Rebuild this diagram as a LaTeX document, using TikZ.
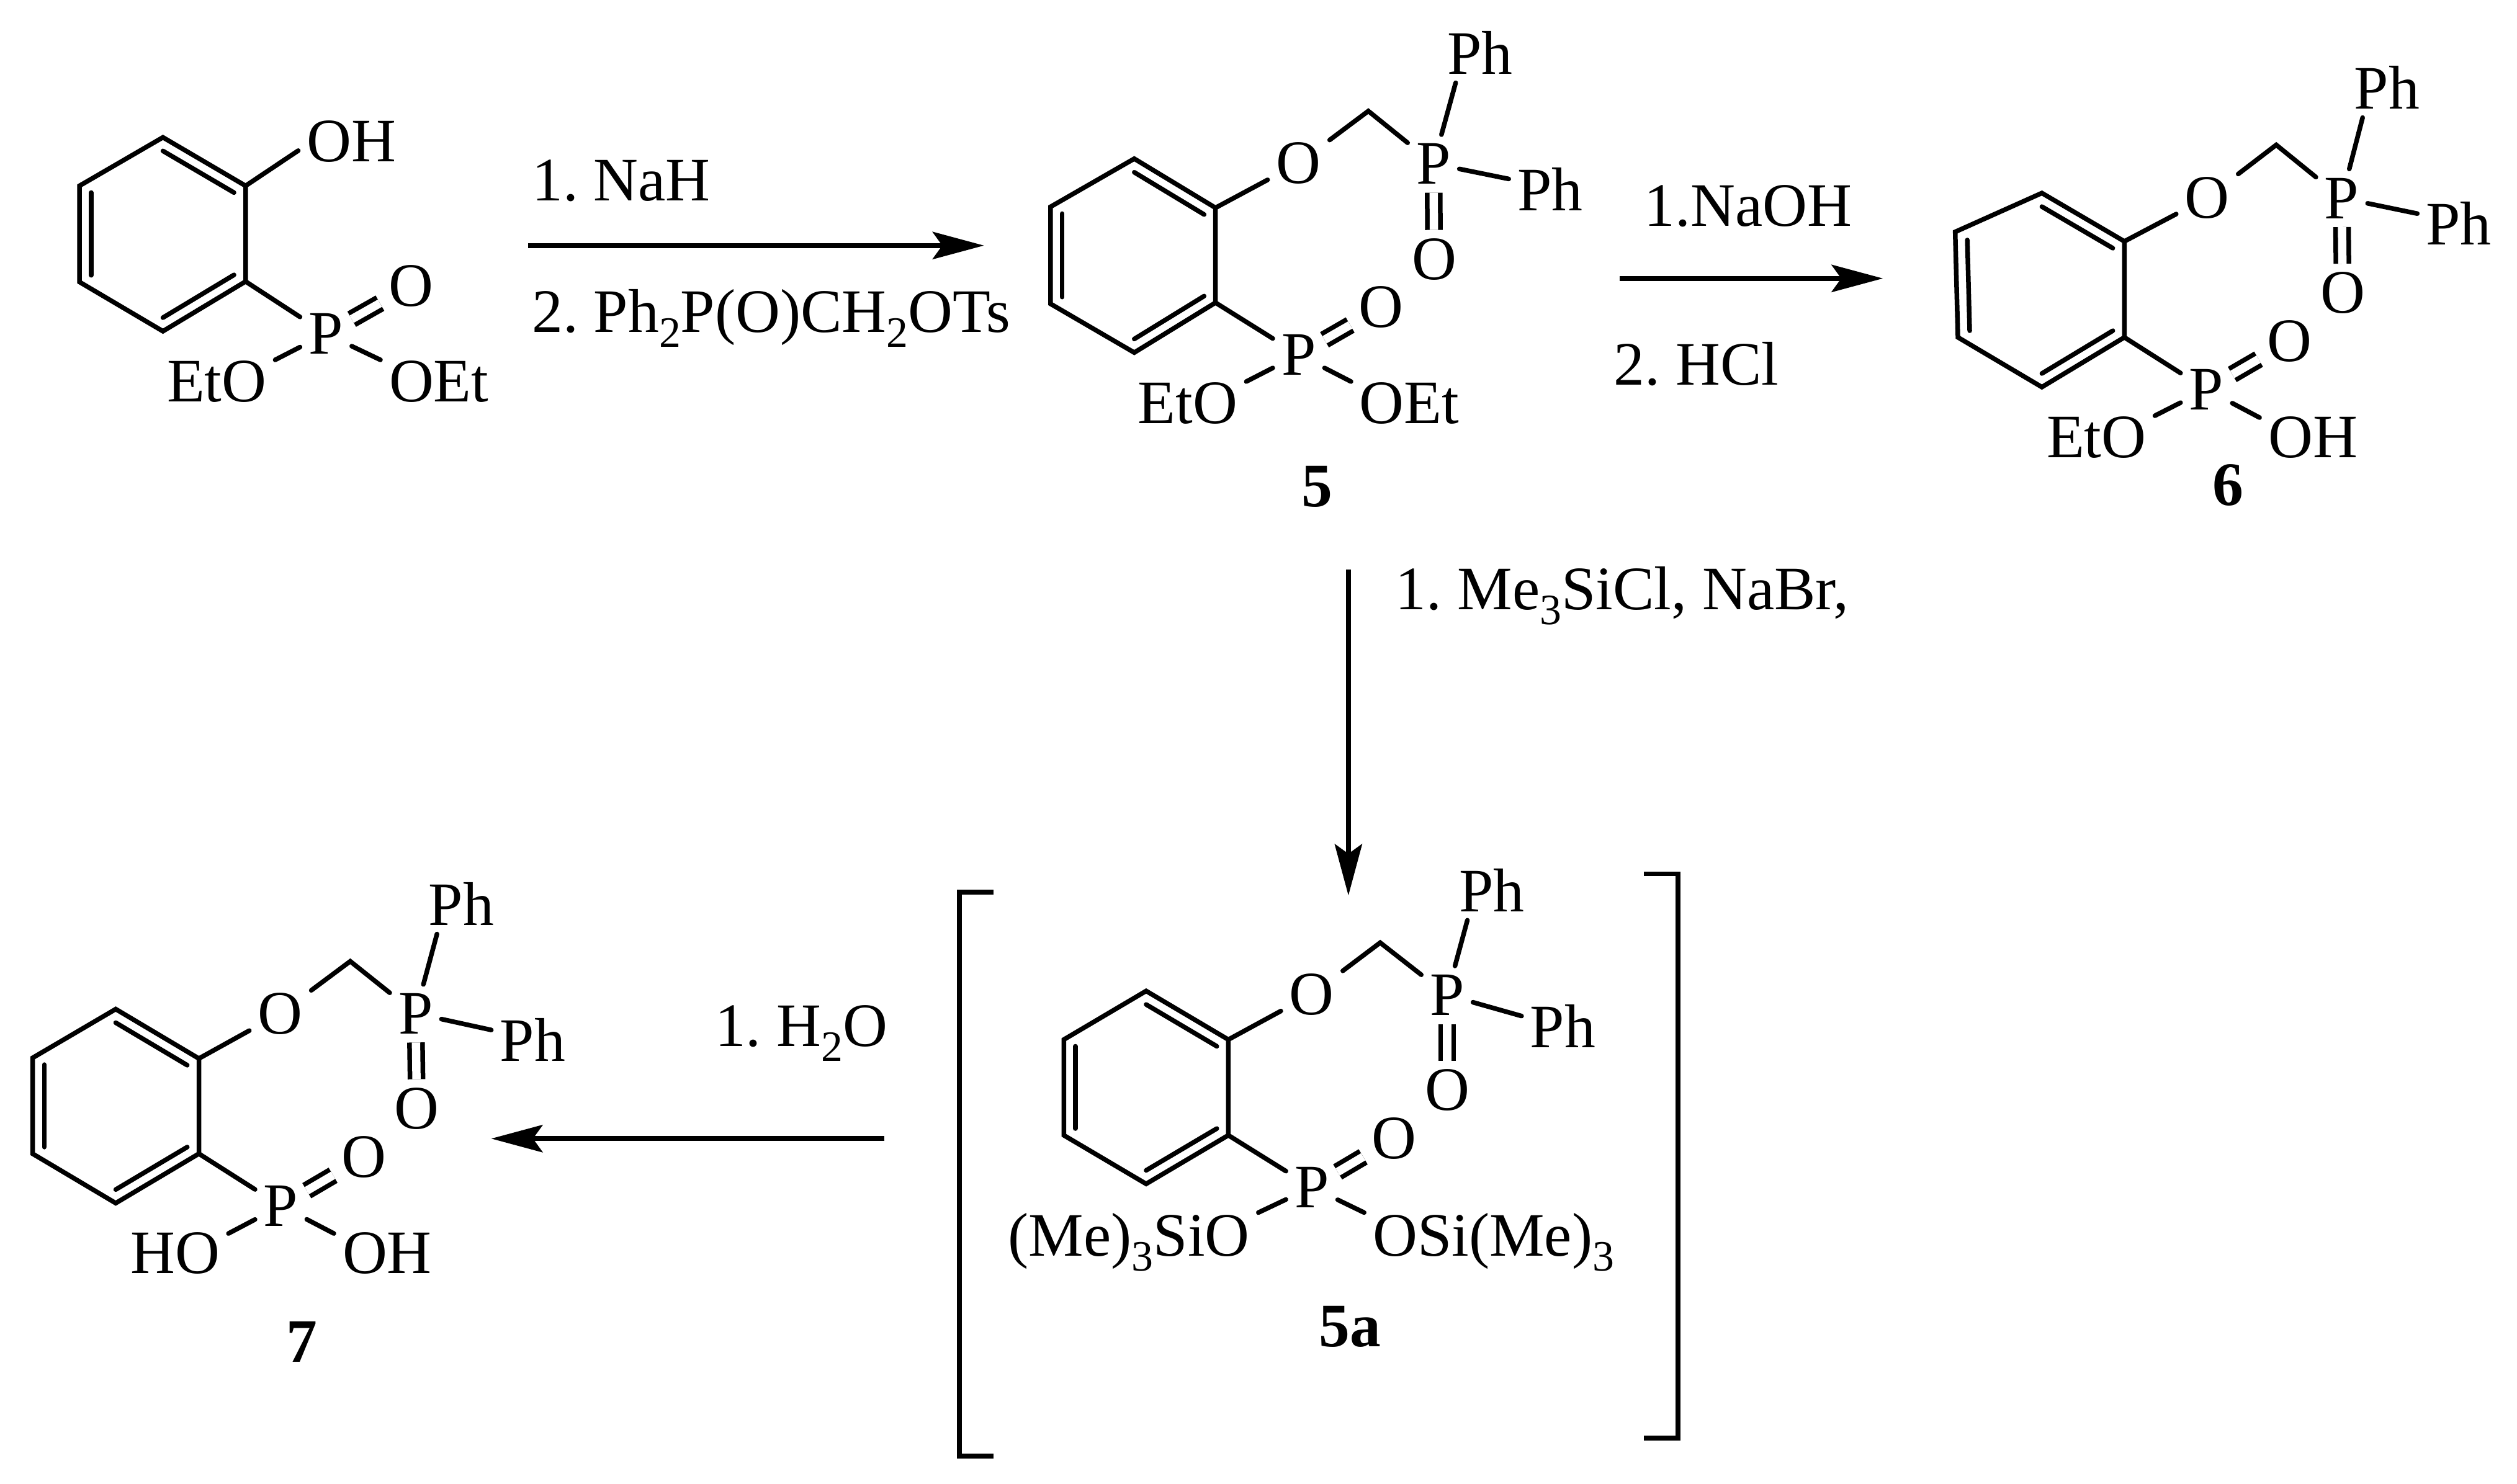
\documentclass[tikz,border=0pt]{standalone}
\usepackage{fontspec}
\setmainfont{Liberation Serif}
\usepackage{tikz}
\usetikzlibrary{calc, arrows.meta}

\newcommand{\subnum}[1]{\raisebox{-0.24em}{\fontsize{13.5}{13.5}\selectfont #1}}
\frenchspacing

\tikzset{
    bond/.style={line width=1.45pt, line cap=round},
    dbl/.style={line width=1.45pt, double, double distance=2.6pt},
    brk/.style={line width=1.5pt},
    rxn/.style={line width=1.5pt, -{Stealth[length=16pt, width=8.5pt, inset=3pt]}},
    atom/.style={inner sep=2.5pt, text height=12.7pt, text depth=0pt},
    reagent/.style={inner sep=0pt, anchor=base west},
    every node/.style={font=\fontsize{19.25}{23}\selectfont}
}

\begin{document}
\begin{tikzpicture}[x=0.5pt, y=-0.5pt]
    \useasboundingbox (0,0) rectangle (1568,924.7);

    % rings
    \coordinate (a1) at (101.5,85.6);
    \coordinate (a2) at (153,115.8);
    \coordinate (a3) at (153,175.4);
    \coordinate (a4) at (101.5,206.4);
    \coordinate (a5) at (49.5,175.7);
    \coordinate (a6) at (49.5,115.8);

    \coordinate (b1) at (706.6,98.9);
    \coordinate (b2) at (757.2,129.5);
    \coordinate (b3) at (757.2,188.6);
    \coordinate (b4) at (706.6,219.7);
    \coordinate (b5) at (654.4,189.3);
    \coordinate (b6) at (654.4,128.9);

    \coordinate (c1) at (1272,120.3);
    \coordinate (c2) at (1323.4,150.4);
    \coordinate (c3) at (1323.4,210.2);
    \coordinate (c4) at (1272,241.2);
    \coordinate (c5) at (1219.7,210.2);
    \coordinate (c6) at (1218,144.5);

    \coordinate (d1) at (714,617.5);
    \coordinate (d2) at (765.2,647.8);
    \coordinate (d3) at (765.2,707.4);
    \coordinate (d4) at (714,737.7);
    \coordinate (d5) at (662.7,707.4);
    \coordinate (d6) at (662.7,647.8);

    \coordinate (e1) at (72.1,628.8);
    \coordinate (e2) at (123.9,659.6);
    \coordinate (e3) at (123.9,718.9);
    \coordinate (e4) at (72.1,749.7);
    \coordinate (e5) at (20.3,718.9);
    \coordinate (e6) at (20.3,659.2);

    % CH2 corners
    \coordinate (bC) at (852.4,69.2);
    \coordinate (cC) at (1418,90.3);
    \coordinate (dC) at (859.8,587.4);
    \coordinate (eC) at (218.2,599);

    % phenol
    \node[atom] (aH) at (219,88) {OH};
    \node[atom] (aQ) at (203,208) {P};
    \node[atom] (aV) at (256,178) {O};
    \node[atom] (aL) at (135,237.5) {EtO};
    \node[atom] (aM) at (273.4,237.5) {OEt};

    % 5
    \node[atom] (bO) at (809,101.7) {O};
    \node[atom] (bP) at (893,102) {P};
    \node[atom] (bT) at (922,33.5) {Ph};
    \node[atom] (bR) at (965.6,118.4) {Ph};
    \node[atom] (bU) at (893.4,161.4) {O};
    \node[atom] (bQ) at (809,221) {P};
    \node[atom] (bV) at (860.4,191.4) {O};
    \node[atom] (bL) at (740,251) {EtO};
    \node[atom] (bM) at (878,251) {OEt};
    \node[atom] (bN) at (820.4,303) {\textbf{5}};

    % 6
    \node[atom] (cO) at (1375,123.2) {O};
    \node[atom] (cP) at (1458.8,123.4) {P};
    \node[atom] (cT) at (1487,55.2) {Ph};
    \node[atom] (cR) at (1531.6,140) {Ph};
    \node[atom] (cU) at (1459.4,182.4) {O};
    \node[atom] (cQ) at (1374.5,242.7) {P};
    \node[atom] (cV) at (1426.3,212.6) {O};
    \node[atom] (cL) at (1306,272.3) {EtO};
    \node[atom] (cM) at (1440.8,272.3) {OH};
    \node[atom] (cN) at (1388,302.3) {\textbf{6}};

    % 5a
    \node[atom] (dO) at (817.2,619.5) {O};
    \node[atom] (dP) at (901.5,620) {P};
    \node[atom] (dT) at (929.3,555.3) {Ph};
    \node[atom] (dR) at (973.6,640) {Ph};
    \node[atom] (dU) at (901.5,679) {O};
    \node[atom] (dQ) at (817.2,739.8) {P};
    \node[atom] (dV) at (868.5,709.4) {O};
    \node[atom] (dL) at (703.3,769.8) {(Me)\subnum{3}SiO};
    \node[atom] (dM) at (930.4,769.8) {OSi(Me)\subnum{3}};
    \node[atom] (dN) at (841,826.3) {\textbf{5a}};

    % 7
    \node[atom] (eO) at (174.6,631.5) {O};
    \node[atom] (eP) at (258.9,631.5) {P};
    \node[atom] (eT) at (287.4,563.9) {Ph};
    \node[atom] (eR) at (331.8,648.7) {Ph};
    \node[atom] (eU) at (259.7,690.6) {O};
    \node[atom] (eQ) at (175,751.4) {P};
    \node[atom] (eV) at (226.8,721) {O};
    \node[atom] (eL) at (109.1,780.7) {HO};
    \node[atom] (eM) at (241.2,780.7) {OH};
    \node[atom] (eN) at (188,836) {\textbf{7}};

    \foreach \n in {a, b, c, d, e} {
        \coordinate (\n0) at ($(\n1)!0.5!(\n4)$);
        \draw[bond] (\n1) -- (\n2) -- (\n3) -- (\n4) -- (\n5) -- (\n6) -- cycle;
        \foreach \p/\q in {1/2, 3/4, 5/6}
            \draw[bond] ($(\n\p)!0.14!(\n0)$) -- ($(\n\q)!0.14!(\n0)$);
        \draw[bond] (\n3) -- (\n Q);
        \draw[dbl] (\n Q) -- (\n V);
    }

    \draw[bond] (a2) -- (aH.190);

    \foreach \n/\l/\r in {a/20/160, b/20/160, c/20/160, d/10/170, e/20/160} {
        \draw[bond] (\n Q) -- (\n L.\l);
        \draw[bond] (\n Q) -- (\n M.\r);
    }

    \foreach \n in {b, c, d, e} {
        \draw[bond] (\n2) -- (\n O);
        \draw[bond] (\n O) -- (\n C) -- (\n P);
        \draw[bond] (\n P) -- (\n T.230);
        \draw[bond] (\n P) -- (\n R.165);
        \draw[dbl] (\n P) -- (\n U);
    }

    % brackets
    \draw[brk] (619,556) -- (597.6,556) -- (597.6,907.3) -- (619,907.3);
    \draw[brk] (1024,544.5) -- (1045.4,544.5) -- (1045.4,896.2) -- (1024,896.2);

    % arrows
    \coordinate (s1) at (329,153);
    \coordinate (t1) at (613,153);
    \coordinate (s2) at (1009,173.5);
    \coordinate (t2) at (1173,173.5);
    \coordinate (s3) at (840,355);
    \coordinate (t3) at (840,558);
    \coordinate (s4) at (551,709.5);
    \coordinate (t4) at (306,709.5);

    \foreach \n in {1, 2, 3, 4}
    \draw[rxn] (s\n) -- (t\n);

    \node[reagent] (r1) at (331,125) {1. NaH};
    \node[reagent] (r2) at (331,207) {2. Ph\subnum{2}P(O)CH\subnum{2}OTs};
    \node[reagent] (r3) at (1024,141) {1.NaOH};
    \node[reagent] (r4) at (1005,240) {2. HCl};
    \node[reagent] (r5) at (869,380) {1. Me\subnum{3}SiCl, NaBr,};
    \node[reagent] (r6) at (445,652) {1. H\subnum{2}O};
\end{tikzpicture}
\end{document}
